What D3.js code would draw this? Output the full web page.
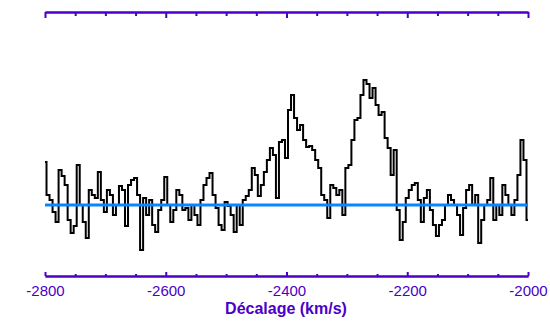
<!DOCTYPE html>
<html><head><meta charset="utf-8">
<script src="https://cdn.jsdelivr.net/npm/d3@7"></script>
<style>html,body{margin:0;padding:0;background:#fff;}svg{display:block;}</style>
</head><body>
<svg id="chart" width="550" height="330"></svg>
<script>
// Velocity channels (km/s), step 5 km/s from -2800 to -2000
const vStart = -2800, vStep = 5;
// Spectrum intensity (arbitrary units)
const intensity = [
 43,10,5,-7,-17,35,29,20,-15,-28,
 -21,40,0,-17,-33,15,10,7,33,5,
 -7,15,10,-10,0,19,15,-21,20,25,
 27,10,-45,7,-10,5,-20,-27,-5,5,
 28,0,-17,-5,15,10,-5,-3,-15,0,
 -10,-20,5,20,27,32,10,-3,-20,-25,
 3,-1,-10,-27,0,-20,5,9,15,37,
 30,9,20,33,45,57,50,7,63,65,
 47,95,110,87,75,80,65,58,59,55,
 45,37,10,5,-13,20,17,10,15,-10,
 37,40,65,85,87,110,125,121,107,117,
 100,90,93,67,57,30,55,-5,-35,-17,
 7,15,20,22,5,-17,7,15,-5,-20,
 -31,-20,-15,0,10,5,0,-10,-30,-3,
 15,20,0,10,-38,-15,0,5,27,-15,
 0,-10,20,10,0,-10,5,30,65,45,-15
];
const velocities = intensity.map((_, i) => vStart + i * vStep);
const majorTicks = [-2800, -2600, -2400, -2200, -2000];
const minorTicks = d3.range(-2800, -1999, 50).filter(v => !majorTicks.includes(v));
const xLabel = "Décalage (km/s)";
const yDomain = [-71, 193];

const axisColor = "#4a00c8";
const svg = d3.select("#chart");
svg.append("rect").attr("width", 550).attr("height", 330).attr("fill", "#fff");

const x = d3.scaleLinear().domain([-2800, -2000]).range([45, 528]);
const y = d3.scaleLinear().domain(yDomain).range([276, 12]);

// spectrum
const line = d3.line().x((d, i) => x(velocities[i])).y(d => y(d)).curve(d3.curveStep);
svg.append("path").datum(intensity).attr("d", line)
  .attr("fill", "none").attr("stroke", "#000").attr("stroke-width", 2);

// zero line
svg.append("line").attr("x1", x(-2800)).attr("x2", x(-2000))
  .attr("y1", y(0)).attr("y2", y(0))
  .attr("stroke", "#0a84ff").attr("stroke-width", 3);

function styleAxis(g) {
  g.select(".domain").attr("stroke", axisColor).attr("stroke-width", 2);
  g.selectAll(".tick line").attr("stroke", axisColor).attr("stroke-width", 2);
  g.selectAll(".tick text").attr("fill", axisColor)
    .attr("font-family", "Liberation Sans, Arial, sans-serif").attr("font-size", "15px");
}

// bottom axis
svg.append("g").attr("transform", "translate(0,276)")
  .call(d3.axisBottom(x).tickValues(minorTicks).tickSize(-2).tickSizeOuter(0).tickFormat(""))
  .call(styleAxis);
svg.append("g").attr("transform", "translate(0,276)")
  .call(d3.axisBottom(x).tickValues(majorTicks).tickSize(-4).tickSizeOuter(0).tickPadding(9).tickFormat(d => String(d)))
  .call(styleAxis);

// top axis
svg.append("g").attr("transform", "translate(0,12)")
  .call(d3.axisTop(x).tickValues(minorTicks).tickSize(-4).tickSizeOuter(0).tickFormat(""))
  .call(styleAxis);
svg.append("g").attr("transform", "translate(0,12)")
  .call(d3.axisTop(x).tickValues(majorTicks).tickSize(-6).tickSizeOuter(0).tickFormat(""))
  .call(styleAxis);

svg.append("text").attr("x", 286).attr("y", 313.5).attr("text-anchor", "middle")
  .attr("font-family", "Liberation Sans, Arial, sans-serif").attr("font-size", "16px")
  .attr("font-weight", "bold").attr("fill", axisColor).text(xLabel);
</script>
</body></html>
